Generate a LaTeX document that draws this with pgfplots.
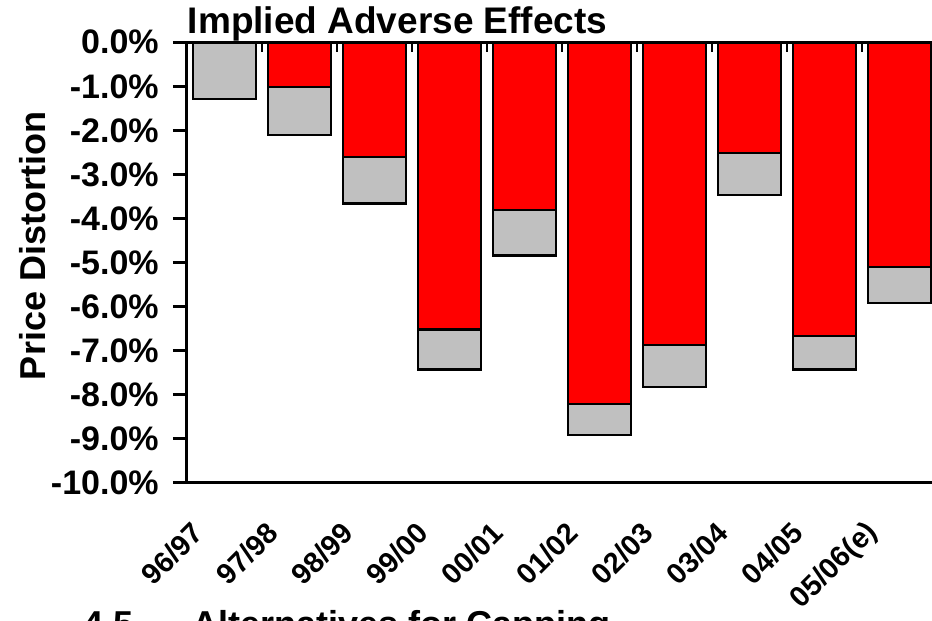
\documentclass[border=0pt]{standalone}
\usepackage{pgfplots}
\pgfplotsset{compat=1.18}
\usepackage{fontspec}
\setmainfont{Liberation Sans}
\definecolor{barred}{RGB}{255,0,0}
\definecolor{bargray}{RGB}{192,192,192}
\begin{document}
\begin{tikzpicture}
\path[use as bounding box] (0,0) rectangle (699pt,465.75pt);
\begin{axis}[
  at={(140.025pt,103.725pt)}, anchor=south west,
  scale only axis, width=562.5pt, height=330.3pt,
  xmin=-0.5, xmax=9.5, ymin=-10, ymax=0,
  axis lines*=left,
  axis line style={line width=2.2pt, black},
  ybar stacked, bar width=47.25pt,
  ytick={-10,-9,...,0},
  yticklabels={-10.0\%,-9.0\%,-8.0\%,-7.0\%,-6.0\%,-5.0\%,-4.0\%,-3.0\%,-2.0\%,-1.0\%,0.0\%},
  ytick style={line width=2.2pt, black},
  tick align=outside, major tick length=10.3pt,
  yticklabel style={font=\fontsize{25.5}{28}\selectfont\bfseries, anchor=east, inner sep=0pt, xshift=-10.5pt},
  xtick={0,...,9},
  xticklabels={96/97,97/98,98/99,99/00,00/01,01/02,02/03,03/04,04/05,05/06(e)},
  xtick style={draw=none},
  xticklabel style={font=\fontsize{21.75}{24}\selectfont\bfseries, xshift=-19.5pt, yshift=-23.55pt, rotate=45, anchor=east, inner sep=0pt},
  every axis y label/.style={at={(axis description cs:-0.2049,0.5375)}, rotate=90, anchor=center, font=\fontsize{27}{30}\selectfont\bfseries, inner sep=0pt},
  ylabel={Price Distortion},
  title={Implied Adverse Effects},
  every axis title/.style={at={(axis description cs:0.0012,1.0204)}, anchor=base west, inner sep=0pt, font=\fontsize{27.75}{30}\selectfont\bfseries},
]
\addplot[draw=black, line width=1.6pt, fill=barred] coordinates {
  (0,0) (1,-1.01) (2,-2.60) (3,-6.52) (4,-3.81) (5,-8.22) (6,-6.87) (7,-2.52) (8,-6.67) (9,-5.11)};
\addplot[draw=black, line width=1.6pt, fill=bargray] coordinates {
  (0,-1.29) (1,-1.10) (2,-1.06) (3,-0.91) (4,-1.03) (5,-0.70) (6,-0.96) (7,-0.95) (8,-0.76) (9,-0.81)};
\end{axis}
\begin{axis}[
  at={(140.025pt,103.725pt)}, anchor=south west,
  scale only axis, width=562.5pt, height=330.3pt,
  xmin=-0.5, xmax=9.5, ymin=-10, ymax=0,
  axis x line*=top, axis y line=none,
  axis line style={line width=2.2pt, black},
  xtick={0.5,1.5,...,8.5}, xticklabels={},
  ytick=\empty,
  tick align=inside, major tick length=7.5pt,
  xtick style={line width=1.5pt, black},
]
\end{axis}
\node[anchor=base west, inner sep=0pt, font=\fontsize{27}{30}\selectfont\bfseries] at (62.25pt,-11.85pt) {4.5};
\node[anchor=base west, inner sep=0pt, font=\fontsize{27}{30}\selectfont\bfseries] at (144pt,-11.85pt) {Alternatives for Capping};
\end{tikzpicture}
\end{document}
